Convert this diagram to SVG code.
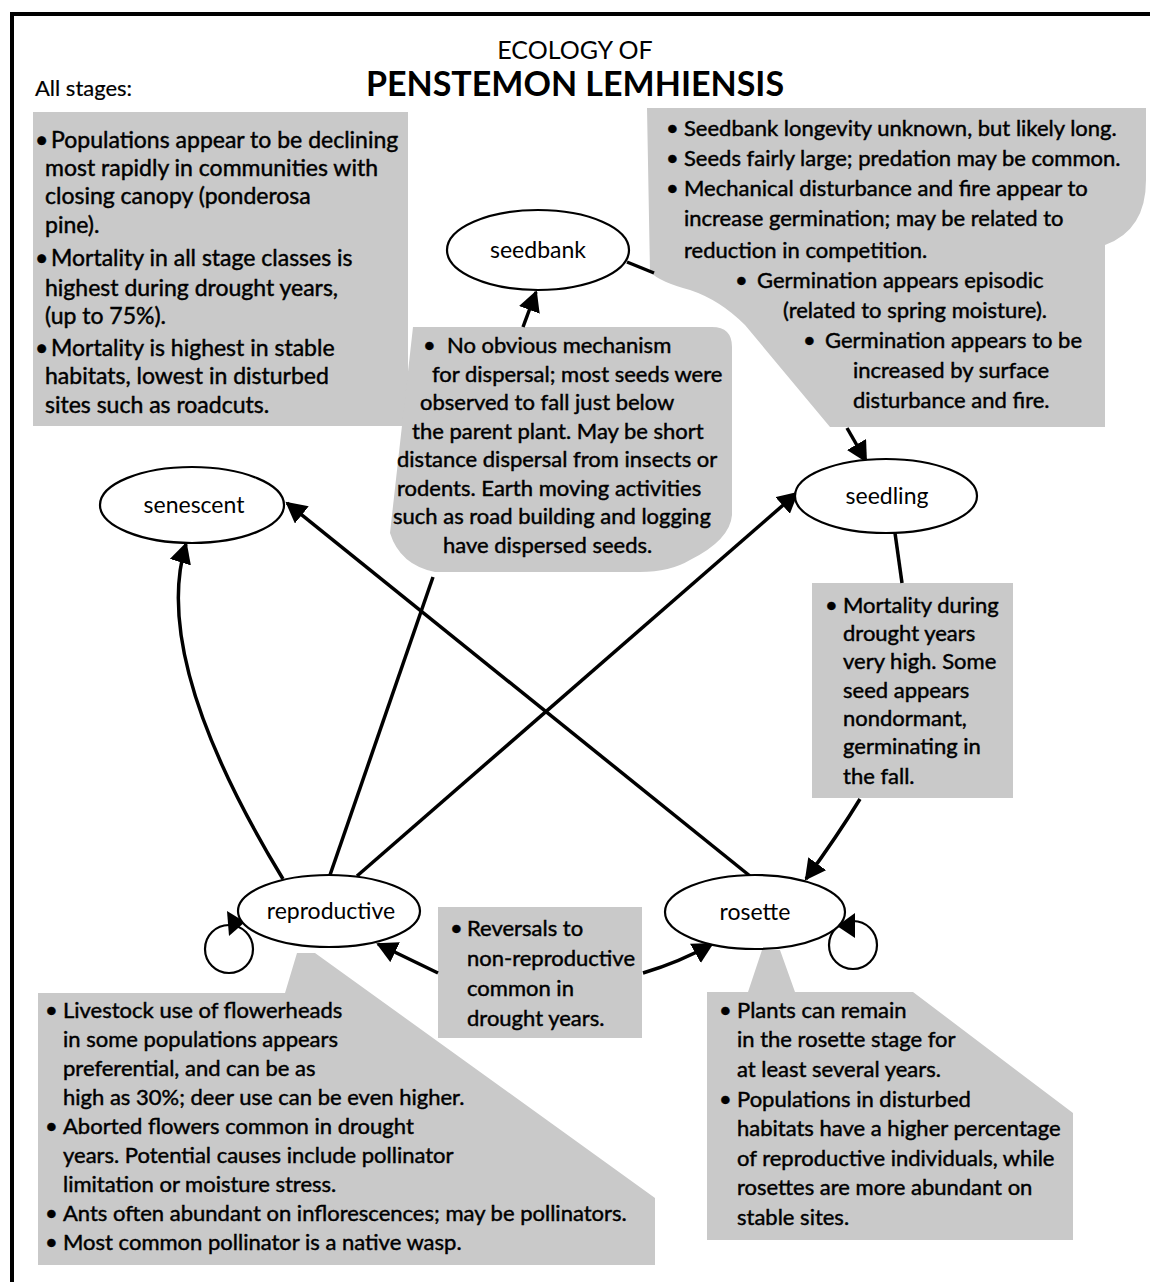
<svg xmlns="http://www.w3.org/2000/svg" width="1150" height="1282" viewBox="0 0 1150 1282">
<defs>
<style>
.t{font-family:Lato,"Open Sans",sans-serif;font-size:22px;fill:#000;stroke:#000;stroke-width:0.45px}
.big{font-size:23px}
.lbl{font-family:Lato,"Open Sans",sans-serif;font-size:23px;fill:#000;text-anchor:middle}
.box{fill:#c9c9c9;stroke:none}
.node{fill:#fff;stroke:#000;stroke-width:2.2}
.con{fill:none;stroke:#000;stroke-width:3.5}
.loop{fill:none;stroke:#000;stroke-width:2.2}
</style>
<marker id="ah" markerUnits="userSpaceOnUse" markerWidth="22" markerHeight="22" refX="19" refY="11" orient="auto" viewBox="0 0 22 22">
<path d="M0,0 L21,11 L0,22 Z" fill="#000"/>
</marker>
</defs>
<rect width="1150" height="1282" fill="#fff"/>
<path d="M12,1282 V14 H1150" fill="none" stroke="#000" stroke-width="4"/>

<g id="title">
<text x="575" y="59" font-family="Lato,'Open Sans',sans-serif" font-size="25" text-anchor="middle">ECOLOGY OF</text>
<text x="575" y="96" font-family="Lato,'Open Sans',sans-serif" font-size="34" font-weight="bold" text-anchor="middle">PENSTEMON LEMHIENSIS</text>
<text x="35" y="96" class="t" style="stroke-width:0.2px">All stages:</text>
</g>

<g id="note-all">
<rect class="box" x="33" y="112" width="375" height="314"/>
<text class="t big" y="148"><tspan x="35">•</tspan><tspan x="51">Populations appear to be declining</tspan></text>
<text class="t big" x="45" y="176">most rapidly in communities with</text>
<text class="t big" x="45" y="204">closing canopy (ponderosa</text>
<text class="t big" x="45" y="233">pine).</text>
<text class="t big" y="266"><tspan x="35">•</tspan><tspan x="51">Mortality in all stage classes is</tspan></text>
<text class="t big" x="45" y="296">highest during drought years,</text>
<text class="t big" x="45" y="324">(up to 75%).</text>
<text class="t big" y="356"><tspan x="35">•</tspan><tspan x="51">Mortality is highest in stable</tspan></text>
<text class="t big" x="45" y="384">habitats, lowest in disturbed</text>
<text class="t big" x="45" y="413">sites such as roadcuts.</text>
</g>

<g id="note-seedbank">
<path class="box" d="M647,108 H1146 V180 Q1146,230 1105,245 V427 H830 L745,325 Q720,300 690,290 Q660,282 650,272 Z"/>
<text class="t" y="136"><tspan x="666">•</tspan><tspan x="684">Seedbank longevity unknown, but likely long.</tspan></text>
<text class="t" y="166"><tspan x="666">•</tspan><tspan x="684">Seeds fairly large; predation may be common.</tspan></text>
<text class="t" y="196"><tspan x="666">•</tspan><tspan x="684">Mechanical disturbance and fire appear to</tspan></text>
<text class="t" x="684" y="226">increase germination; may be related to</text>
<text class="t" x="684" y="258">reduction in competition.</text>
<text class="t" y="288"><tspan x="735">•</tspan><tspan x="757">Germination appears episodic</tspan></text>
<text class="t" x="783" y="318">(related to spring moisture).</text>
<text class="t" y="348"><tspan x="803">•</tspan><tspan x="825">Germination appears to be</tspan></text>
<text class="t" x="853" y="378">increased by surface</text>
<text class="t" x="853" y="408">disturbance and fire.</text>
</g>

<g id="note-dispersal">
<path class="box" d="M413,327 H712 Q732,327 732,347 V515 Q730,540 690,560 Q670,572 640,572 H435 Q400,565 390,533 Z"/>
<text class="t" y="353"><tspan x="423">•</tspan><tspan x="447">No obvious mechanism</tspan></text>
<text class="t" x="432" y="382">for dispersal; most seeds were</text>
<text class="t" x="420" y="410">observed to fall just below</text>
<text class="t" x="412" y="439">the parent plant. May be short</text>
<text class="t" x="397" y="467">distance dispersal from insects or</text>
<text class="t" x="397" y="496">rodents. Earth moving activities</text>
<text class="t" x="393" y="524">such as road building and logging</text>
<text class="t" x="443" y="553">have dispersed seeds.</text>
</g>

<g id="note-seedling">
<rect class="box" x="812" y="583" width="201" height="215"/>
<text class="t" y="613"><tspan x="825">•</tspan><tspan x="843">Mortality during</tspan></text>
<text class="t" x="843" y="641">drought years</text>
<text class="t" x="843" y="669">very high. Some</text>
<text class="t" x="843" y="698">seed appears</text>
<text class="t" x="843" y="726">nondormant,</text>
<text class="t" x="843" y="754">germinating in</text>
<text class="t" x="843" y="784">the fall.</text>
</g>

<g id="note-reversals">
<rect class="box" x="438" y="907" width="204" height="131"/>
<text class="t" y="936"><tspan x="450">•</tspan><tspan x="467">Reversals to</tspan></text>
<text class="t" x="467" y="966">non-reproductive</text>
<text class="t" x="467" y="996">common in</text>
<text class="t" x="467" y="1026">drought years.</text>
</g>

<g id="note-reproductive">
<polygon class="box" points="297,953 315,953 655,1198 655,1265 38,1265 38,993 285,993"/>
<text class="t" y="1018"><tspan x="45">•</tspan><tspan x="63">Livestock use of flowerheads</tspan></text>
<text class="t" x="63" y="1047">in some populations appears</text>
<text class="t" x="63" y="1076">preferential, and can be as</text>
<text class="t" x="63" y="1105">high as 30%; deer use can be even higher.</text>
<text class="t" y="1134"><tspan x="45">•</tspan><tspan x="63">Aborted flowers common in drought</tspan></text>
<text class="t" x="63" y="1163">years. Potential causes include pollinator</text>
<text class="t" x="63" y="1192">limitation or moisture stress.</text>
<text class="t" y="1221"><tspan x="45">•</tspan><tspan x="63">Ants often abundant on inflorescences; may be pollinators.</tspan></text>
<text class="t" y="1250"><tspan x="45">•</tspan><tspan x="63">Most common pollinator is a native wasp.</tspan></text>
</g>

<g id="note-rosette">
<polygon class="box" points="762,950 780,950 795,992 913,992 1073,1113 1073,1240 707,1240 707,992 748,992"/>
<text class="t" y="1018"><tspan x="719">•</tspan><tspan x="737">Plants can remain</tspan></text>
<text class="t" x="737" y="1047">in the rosette stage for</text>
<text class="t" x="737" y="1077">at least several years.</text>
<text class="t" y="1107"><tspan x="719">•</tspan><tspan x="737">Populations in disturbed</tspan></text>
<text class="t" x="737" y="1136">habitats have a higher percentage</text>
<text class="t" x="737" y="1166">of reproductive individuals, while</text>
<text class="t" x="737" y="1195">rosettes are more abundant on</text>
<text class="t" x="737" y="1225">stable sites.</text>
</g>

<g id="connectors">
<path class="con" d="M523,327 L536,292" marker-end="url(#ah)"/>
<path class="con" d="M627,262 L654,273"/>
<path class="con" d="M847,428 L866,461" marker-end="url(#ah)"/>
<path class="con" d="M895,533 L902,583"/>
<path class="con" d="M860,799 Q838,835 806,879" marker-end="url(#ah)"/>
<path class="con" d="M750,876 L287,503" marker-end="url(#ah)"/>
<path class="con" d="M283,879 Q150,660 186,544" marker-end="url(#ah)"/>
<path class="con" d="M330,875 L433,577"/>
<path class="con" d="M357,876 L797,493" marker-end="url(#ah)"/>
<path class="con" d="M438,973 L378,944" marker-end="url(#ah)"/>
<path class="con" d="M643,973 Q680,962 712,944" marker-end="url(#ah)"/>
<circle class="loop" cx="229" cy="949" r="24"/>
<polygon points="245,922 227,911 229,936" fill="#000"/>
<circle class="loop" cx="853" cy="945" r="24"/>
<polygon points="837,926 855,913 855,938" fill="#000"/>
</g>

<g id="seedbank"><ellipse class="node" cx="538" cy="250" rx="91" ry="40"/><text class="lbl" x="538" y="258">seedbank</text></g>
<g id="senescent"><ellipse class="node" cx="192" cy="505" rx="92" ry="38"/><text class="lbl" x="194" y="513">senescent</text></g>
<g id="seedling"><ellipse class="node" cx="886" cy="496" rx="91" ry="37"/><text class="lbl" x="887" y="504">seedling</text></g>
<g id="reproductive"><ellipse class="node" cx="329" cy="911" rx="91" ry="36"/><text class="lbl" x="331" y="919">reproductive</text></g>
<g id="rosette"><ellipse class="node" cx="755" cy="912" rx="90" ry="37"/><text class="lbl" x="755" y="920">rosette</text></g>
</svg>
